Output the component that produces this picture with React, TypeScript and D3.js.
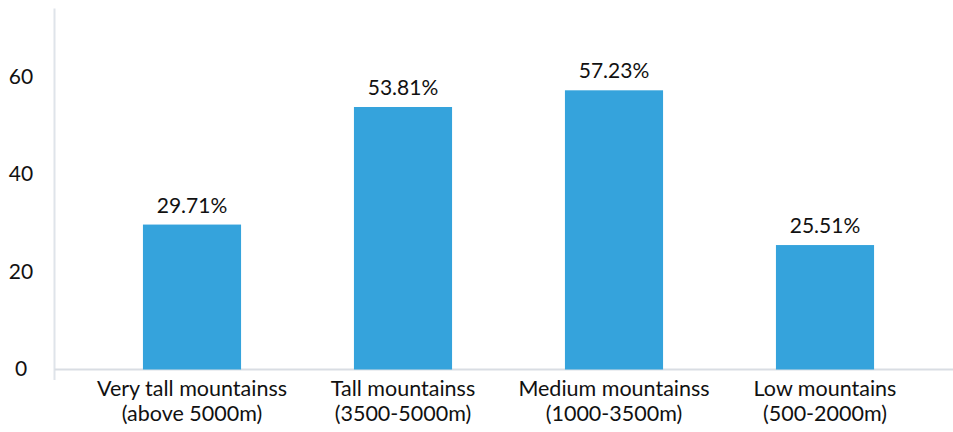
import React from "react";
import * as d3 from "d3";

const categories: string[][] = [
  ["Very tall mountainss", "(above 5000m)"],
  ["Tall mountainss", "(3500-5000m)"],
  ["Medium mountainss", "(1000-3500m)"],
  ["Low mountains", "(500-2000m)"],
];
const values: number[] = [29.71, 53.81, 57.23, 25.51];
const yTicks: number[] = [0, 20, 40, 60];

const W = 953;
const H = 432;
const FONT = "Lato, 'Open Sans', sans-serif";

export default function App() {
  const keys = categories.map((_, i) => String(i));
  const x = d3
    .scaleBand<string>()
    .domain(keys)
    .range([86.5, 930.5])
    .paddingInner(0.535)
    .paddingOuter(0.2675);
  const y = d3.scaleLinear().domain([0, 74]).range([369.5, 8.5]);
  const axisLeft = 54.5;

  return (
    <svg
      width={W}
      height={H}
      style={{ position: "absolute", left: 0, top: 0, background: "#fff" }}
      fontFamily={FONT}
    >
      <defs>
        {keys.map((k) => (
          <clipPath id={`clip${k}`} key={k}>
            <rect
              x={(x(k) as number) + x.bandwidth() / 2 - x.step() / 2 - 5}
              y={0}
              width={x.step() + 4}
              height={H}
            />
          </clipPath>
        ))}
      </defs>
      <line x1={axisLeft} x2={axisLeft} y1={y(74)} y2={380} stroke="#dfe4ea" strokeWidth={2} />
      <line x1={axisLeft} x2={W} y1={y(0)} y2={y(0)} stroke="#d9dde3" strokeWidth={2} />
      {yTicks.map((t) => (
        <text
          key={t}
          x={21}
          y={y(t)}
          dy="0.32em"
          textAnchor="middle"
          fontSize={21}
          fill="#111"
        >
          {t}
        </text>
      ))}
      {values.map((v, i) => {
        const k = keys[i];
        const bx = x(k) as number;
        const cx = bx + x.bandwidth() / 2;
        return (
          <g key={k}>
            <rect x={bx} y={y(v)} width={x.bandwidth()} height={y(0) - y(v)} fill="#35a3dc" />
            <text x={cx} y={y(v) - 12} textAnchor="middle" fontSize={21} fill="#111">
              {v.toFixed(2)}%
            </text>
            <g clipPath={`url(#clip${k})`}>
              {categories[i].map((line, j) => (
                <text
                  key={j}
                  x={cx}
                  y={396 + j * 25}
                  textAnchor="middle"
                  fontSize={21.5}
                  fill="#111"
                >
                  {line}
                </text>
              ))}
            </g>
          </g>
        );
      })}
    </svg>
  );
}
